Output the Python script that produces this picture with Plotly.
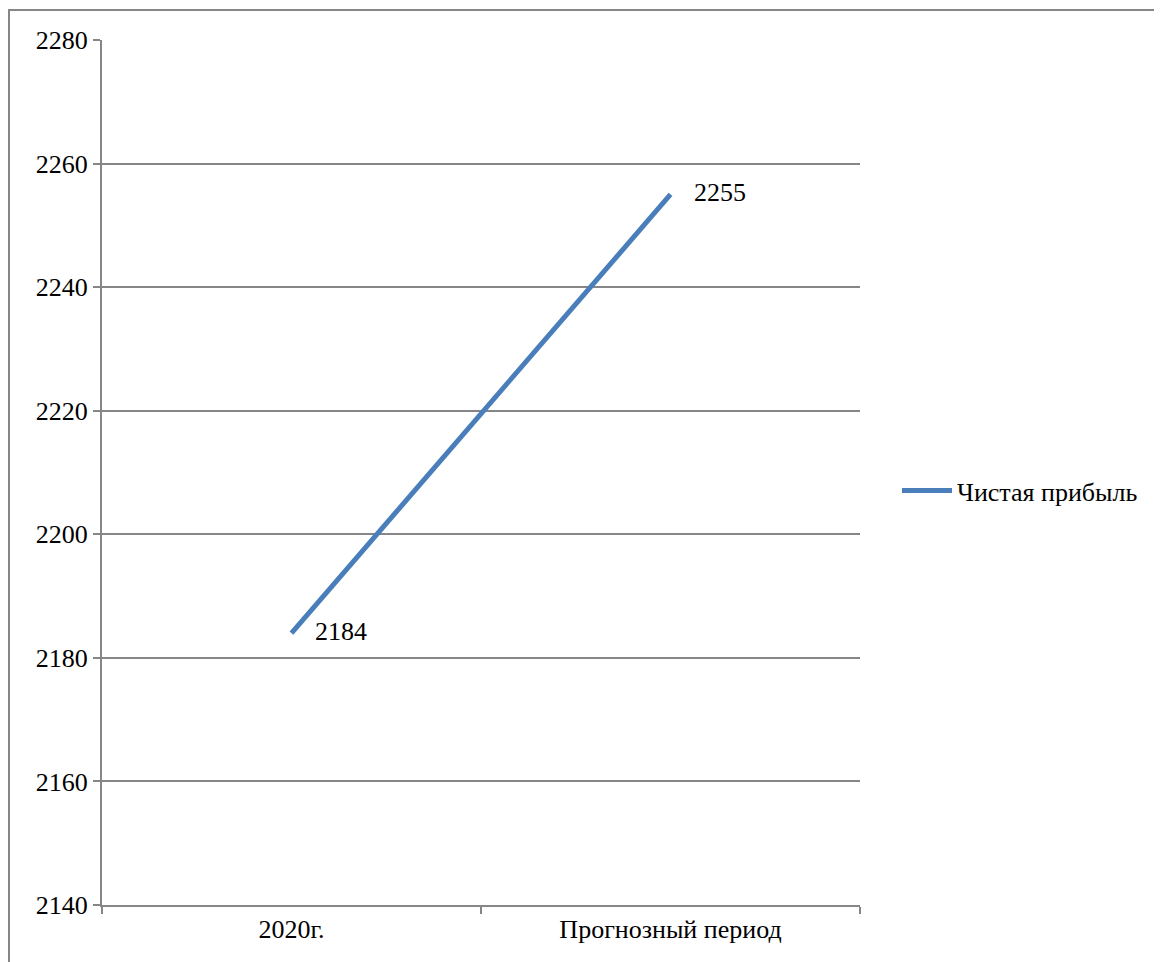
import plotly.graph_objects as go

categories = ["2020г.", "Прогнозный период"]
values = [2184, 2255]
series_name = "Чистая прибыль"
y_ticks = [2140, 2160, 2180, 2200, 2220, 2240, 2260, 2280]

font_family = "Times New Roman, Liberation Serif, DejaVu Serif, serif"
grid_color = "#868686"

fig = go.Figure()
fig.add_trace(go.Scatter(
    x=categories, y=values, name=series_name,
    mode="lines+markers+text",
    line=dict(color="#4a7ebb", width=5),
    marker=dict(size=36, color="rgba(0,0,0,0)"),
    text=[str(v) for v in values],
    textposition="middle right",
    textfont=dict(family=font_family, size=26, color="black"),
    cliponaxis=False,
))

fig.update_layout(
    width=1162, height=962,
    margin=dict(l=94, r=310, t=32, b=65),
    paper_bgcolor="white", plot_bgcolor="white",
    font=dict(family=font_family, size=26, color="black"),
    showlegend=True,
    legend=dict(x=1.0488, y=0.479, xanchor="left", yanchor="middle",
                font=dict(family=font_family, size=26, color="black"),
                itemwidth=50, tracegroupgap=0, borderwidth=0),
    shapes=[dict(type="rect", xref="paper", yref="paper",
                 x0=-0.1227, x1=1.6, y0=-0.2, y1=1.0347,
                 line=dict(color="#868686", width=2), layer="below")],
)
fig.update_xaxes(
    type="category", showgrid=False, showline=True, linecolor=grid_color, linewidth=2,
    ticks="outside", tickson="boundaries", ticklen=7, tickcolor=grid_color, tickwidth=2,
    tickfont=dict(family=font_family, size=26, color="black"),
    range=[-0.5, 1.5],
)
fig.update_yaxes(
    range=[2140, 2280], tickvals=y_ticks, showgrid=True, gridcolor=grid_color, gridwidth=1.5,
    showline=True, linecolor=grid_color, linewidth=2,
    ticks="outside", ticklen=7, tickcolor=grid_color, tickwidth=2,
    tickfont=dict(family=font_family, size=26, color="black"),
    zeroline=False,
)
fig.write_html("out.html")
